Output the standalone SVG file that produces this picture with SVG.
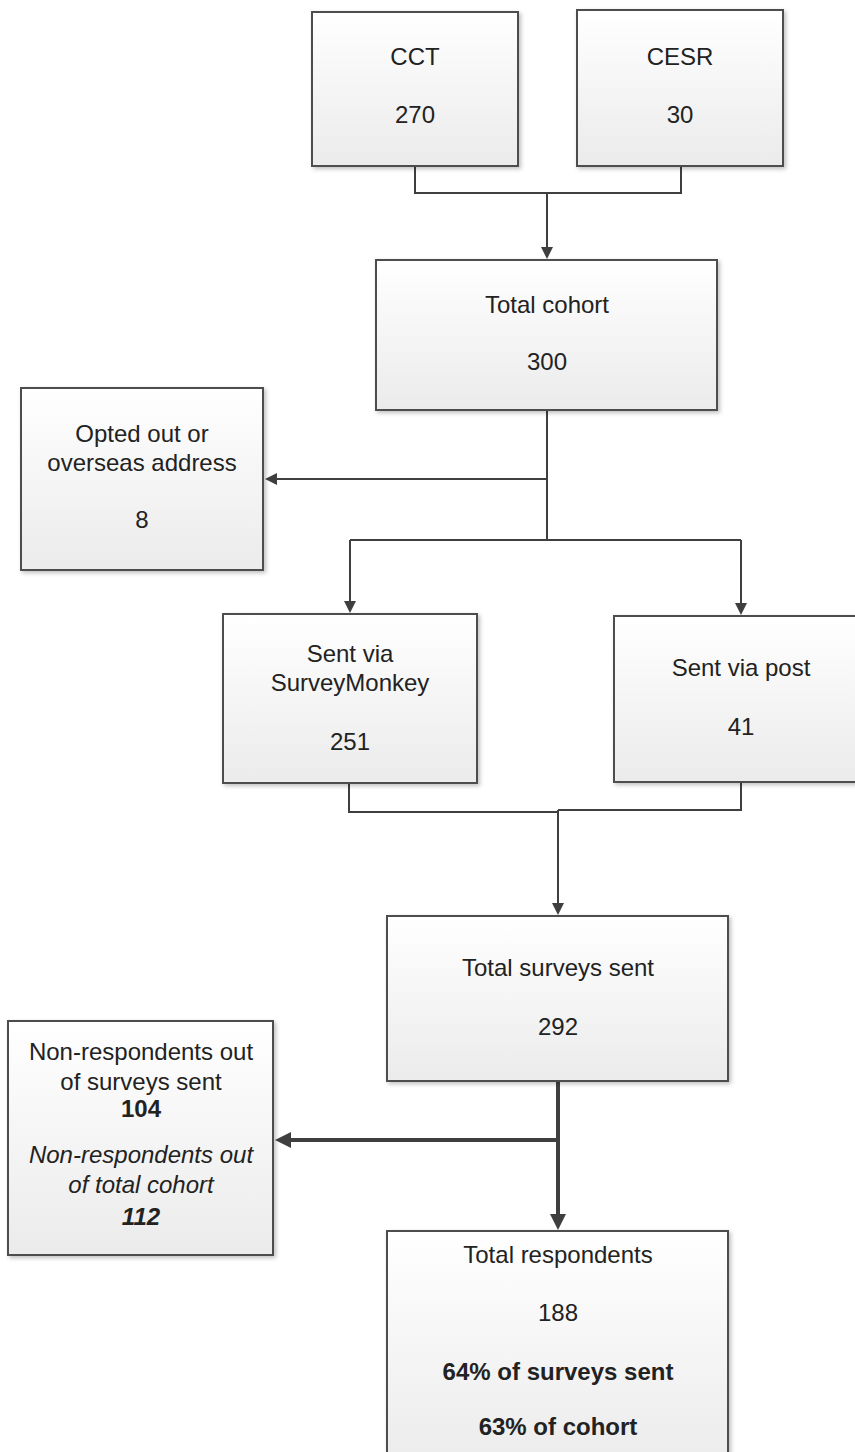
<svg xmlns="http://www.w3.org/2000/svg" width="855" height="1452" viewBox="0 0 855 1452">
<style>
.box{fill:url(#g);stroke:#4d4d4d;stroke-width:2;filter:url(#sh)}
text{font-family:"Liberation Sans",Arial,sans-serif;font-size:24px;fill:#222;text-anchor:middle}
.b{font-weight:bold}
.i{font-style:italic}
.ln{fill:none;stroke:#3f3f3f;stroke-width:2}
.tk{fill:none;stroke:#3f3f3f;stroke-width:4}
</style>
<defs>
<linearGradient id="g" x1="0" y1="0" x2="0" y2="1">
<stop offset="0" stop-color="#ffffff"/>
<stop offset="1" stop-color="#ebebeb"/>
</linearGradient>
<filter id="sh" x="-10%" y="-10%" width="120%" height="120%">
<feDropShadow dx="2" dy="2" stdDeviation="2" flood-color="#000" flood-opacity="0.25"/>
</filter>
<marker id="a" viewBox="0 0 12 12" markerWidth="12" markerHeight="12" markerUnits="userSpaceOnUse" refX="4" refY="6" orient="auto">
<path d="M0,0 L12,6 L0,12 z" fill="#3f3f3f"/>
</marker>
<marker id="at" viewBox="0 0 16 16" markerWidth="16" markerHeight="16" markerUnits="userSpaceOnUse" refX="6" refY="8" orient="auto">
<path d="M0,0 L16,8 L0,16 z" fill="#3f3f3f"/>
</marker>
</defs>

<g id="connectors">
<path class="ln" d="M415 167 V193 H681 V167"/>
<path class="ln" d="M547 193 V251" marker-end="url(#a)"/>
<path class="ln" d="M547 411 V540"/>
<path class="ln" d="M547 479 H273" marker-end="url(#a)"/>
<path class="ln" d="M350 540 H741"/>
<path class="ln" d="M350 540 V605" marker-end="url(#a)"/>
<path class="ln" d="M741 540 V607" marker-end="url(#a)"/>
<path class="ln" d="M349 784 V812 H558"/>
<path class="ln" d="M741 783 V810 H558"/>
<path class="ln" d="M558 810 V907" marker-end="url(#a)"/>
<path class="tk" d="M558 1082 V1220" marker-end="url(#at)"/>
<path class="tk" d="M558 1140 H285" marker-end="url(#at)"/>
</g>

<g id="cct">
<rect class="box" x="312" y="12" width="206" height="154"/>
<text x="415" y="65">CCT</text>
<text x="415" y="123">270</text>
</g>
<g id="cesr">
<rect class="box" x="577" y="10" width="206" height="156"/>
<text x="680" y="65">CESR</text>
<text x="680" y="123">30</text>
</g>
<g id="total-cohort">
<rect class="box" x="376" y="260" width="341" height="150"/>
<text x="547" y="313">Total cohort</text>
<text x="547" y="370">300</text>
</g>
<g id="opted-out">
<rect class="box" x="21" y="388" width="242" height="182"/>
<text x="142" y="442">Opted out or</text>
<text x="142" y="471">overseas address</text>
<text x="142" y="528">8</text>
</g>
<g id="surveymonkey">
<rect class="box" x="223" y="614" width="254" height="169"/>
<text x="350" y="662">Sent via</text>
<text x="350" y="691">SurveyMonkey</text>
<text x="350" y="750">251</text>
</g>
<g id="post">
<rect class="box" x="614" y="616" width="256" height="166"/>
<text x="741" y="676">Sent via post</text>
<text x="741" y="735">41</text>
</g>
<g id="total-surveys">
<rect class="box" x="387" y="916" width="341" height="165"/>
<text x="558" y="976">Total surveys sent</text>
<text x="558" y="1035">292</text>
</g>
<g id="non-respondents">
<rect class="box" x="8" y="1021" width="265" height="234"/>
<text x="141" y="1060">Non-respondents out</text>
<text x="141" y="1090">of surveys sent</text>
<text x="141" y="1117" class="b">104</text>
<text x="141" y="1163" class="i">Non-respondents out</text>
<text x="141" y="1193" class="i">of total cohort</text>
<text x="141" y="1225" class="b i">112</text>
</g>
<g id="total-respondents">
<rect class="box" x="387" y="1231" width="341" height="240"/>
<text x="558" y="1263">Total respondents</text>
<text x="558" y="1321">188</text>
<text x="558" y="1380" class="b">64% of surveys sent</text>
<text x="558" y="1435" class="b">63% of cohort</text>
</g>
</svg>
